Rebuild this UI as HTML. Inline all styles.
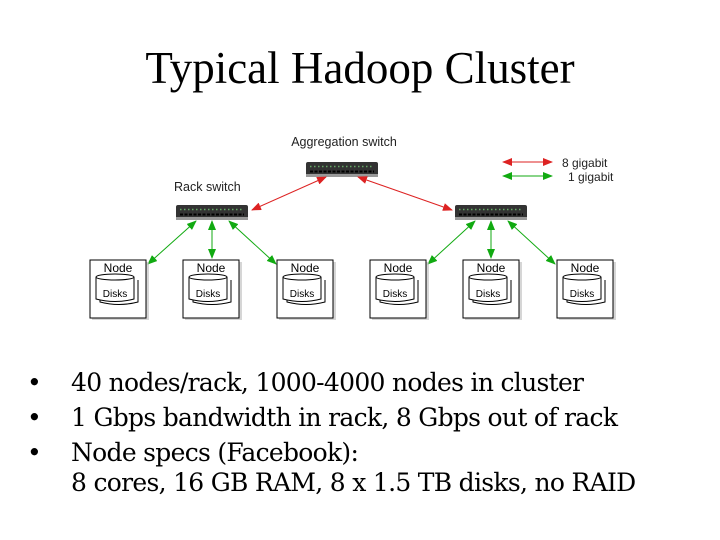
<!DOCTYPE html>
<html><head><style>
body{margin:0;background:#fff;width:720px;height:540px;overflow:hidden;position:relative;font-family:"Liberation Sans",sans-serif}
h1{position:absolute;top:42px;left:0;width:720px;text-align:center;margin:0;font:400 45px/52px "Liberation Serif",serif;color:#000}
ul{position:absolute;top:368px;left:30px;margin:0;padding:0;list-style:none;font:25px/30px "DejaVu Serif","Liberation Serif",serif;color:#000;letter-spacing:-0.7px}
li{padding-left:41px;position:relative;margin-bottom:5px}
li b{position:absolute;left:-3px;font-weight:normal}
</style></head><body>
<h1>Typical Hadoop Cluster</h1>
<svg width="720" height="540" style="position:absolute;left:0;top:0" font-family="Liberation Sans,sans-serif">
<defs>
<marker id="r" markerWidth="10" markerHeight="8" refX="9" refY="4" orient="auto-start-reverse" markerUnits="userSpaceOnUse"><path d="M0,0L10,4L0,8z" fill="#d22"/></marker>
<marker id="g" markerWidth="10" markerHeight="8" refX="9" refY="4" orient="auto-start-reverse" markerUnits="userSpaceOnUse"><path d="M0,0L10,4L0,8z" fill="#1a1"/></marker>
<g id="sw"><rect x="0" y="0" width="72" height="14" rx="2" fill="#333"/><rect x="0" y="12" width="72" height="3" fill="#999"/><line x1="4" y1="4.5" x2="68" y2="4.5" stroke="#6a6" stroke-dasharray="1.5 2.5" stroke-width="1.5"/><line x1="4" y1="9.5" x2="68" y2="9.5" stroke="#000" stroke-dasharray="3 1.5" stroke-width="2"/></g>
<g id="nd"><rect x="2" y="2" width="57" height="58" fill="#bbb" opacity=".6"/><rect x="0" y="0" width="56" height="58" fill="#fff" stroke="#000"/><text x="28" y="12" font-size="12" text-anchor="middle">Node</text>
<path d="M10,20v22q19,5 38,0v-22" fill="#fff" stroke="#000"/><path d="M6,17v22q19,5 38,0v-22" fill="#fff" stroke="#000"/><ellipse cx="25" cy="17" rx="19" ry="3" fill="#fff" stroke="#000"/><text x="25" y="37" font-size="10" text-anchor="middle">Disks</text></g>
</defs>
<text x="344" y="146" font-size="12.5" text-anchor="middle" fill="#222">Aggregation switch</text>
<text x="174" y="191" font-size="12.5" fill="#222">Rack switch</text>
<use href="#sw" x="306" y="162"/>
<use href="#sw" x="176" y="205"/>
<use href="#sw" x="455" y="205"/>
<line x1="326" y1="177" x2="252" y2="210" stroke="#d22" marker-start="url(#r)" marker-end="url(#r)"/>
<line x1="358" y1="177" x2="452" y2="210" stroke="#d22" marker-start="url(#r)" marker-end="url(#r)"/>
<line x1="503" y1="162" x2="552" y2="162" stroke="#d22" marker-start="url(#r)" marker-end="url(#r)"/>
<line x1="503" y1="176" x2="552" y2="176" stroke="#1a1" marker-start="url(#g)" marker-end="url(#g)"/>
<text x="562" y="167" font-size="12" fill="#222">8 gigabit</text>
<text x="568" y="181" font-size="12" fill="#222">1 gigabit</text>
<g stroke="#1a1">
<line x1="196" y1="221" x2="148" y2="264" marker-start="url(#g)" marker-end="url(#g)"/>
<line x1="212" y1="221" x2="212" y2="258" marker-start="url(#g)" marker-end="url(#g)"/>
<line x1="229" y1="221" x2="276" y2="264" marker-start="url(#g)" marker-end="url(#g)"/>
<line x1="475" y1="221" x2="428" y2="264" marker-start="url(#g)" marker-end="url(#g)"/>
<line x1="491" y1="221" x2="491" y2="258" marker-start="url(#g)" marker-end="url(#g)"/>
<line x1="508" y1="221" x2="555" y2="264" marker-start="url(#g)" marker-end="url(#g)"/>
</g>
<use href="#nd" x="90" y="260"/><use href="#nd" x="183" y="260"/><use href="#nd" x="277" y="260"/>
<use href="#nd" x="370" y="260"/><use href="#nd" x="463" y="260"/><use href="#nd" x="557" y="260"/>
</svg>
<ul>
<li><b>•</b>40 nodes/rack, 1000-4000 nodes in cluster</li>
<li><b>•</b>1 Gbps bandwidth in rack, 8 Gbps out of rack</li>
<li><b>•</b>Node specs (Facebook):<br>8 cores, 16 GB RAM, 8 x 1.5 TB disks, no RAID</li>
</ul>
</body></html>
